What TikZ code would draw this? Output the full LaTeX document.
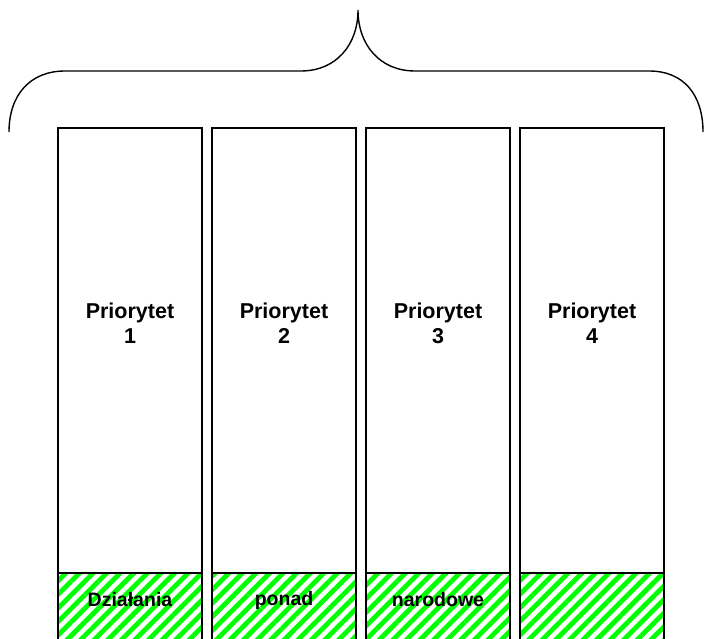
\documentclass[tikz,border=0pt]{standalone}
\usepackage{fontspec}
\setmainfont{Liberation Sans}
\usetikzlibrary{positioning, patterns.meta}

\begin{document}
\begin{tikzpicture}[x=1pt, y=-1pt, node distance=10pt, font=\bfseries,
  column/.style={draw, line width=1.4pt, minimum width=144pt, minimum height=445pt, inner sep=0pt, outer sep=0pt},
  band/.style={draw, line width=1.4pt, minimum width=144pt, minimum height=75pt, inner sep=0pt, outer sep=0pt,
    pattern={Lines[angle=45, distance=9.6pt, line width=4.8pt]}, pattern color=green},
  title/.style={align=center, font=\fontsize{21.5}{25}\selectfont\bfseries},
  tag/.style={font=\fontsize{19.5}{22}\selectfont\bfseries}]
\useasboundingbox (0,0) rectangle (704,639);
% four priority columns
\node[column, anchor=north] (col1) at (130,128) {};
\node[column, right=of col1] (col2) {};
\node[column, right=of col2] (col3) {};
\node[column, right=of col3] (col4) {};
% hatched strip at the bottom
\node[band, anchor=north] (band1) at (col1.south) {};
\node[band, anchor=north] (band2) at (col2.south) {};
\node[band, anchor=north] (band3) at (col3.south) {};
\node[band, anchor=north] (band4) at (col4.south) {};
\node[title] (t1) at ([yshift=-195pt]col1.north) {Priorytet\\1};
\node[title] (t2) at ([yshift=-195pt]col2.north) {Priorytet\\2};
\node[title] (t3) at ([yshift=-195pt]col3.north) {Priorytet\\3};
\node[title] (t4) at ([yshift=-195pt]col4.north) {Priorytet\\4};
\node[tag] (b1) at ([yshift=-27pt]band1.north) {Działania};
\node[tag] (b2) at ([yshift=-27pt]band2.north) {ponad};
\node[tag] (b3) at ([yshift=-27pt]band3.north) {narodowe};
% brace over all columns
\coordinate (bl) at (9,132);
\coordinate (tip) at (358,10);
\coordinate (br) at (703,132);
\draw[line width=1.4pt] (bl) .. controls (9,95) and (30,71) .. (65,71) -- (301,71)
  .. controls (336,71) and (358,45) .. (tip)
  .. controls (358,45) and (380,71) .. (415,71) -- (649,71)
  .. controls (684,71) and (703,95) .. (br);
\end{tikzpicture}
\end{document}
